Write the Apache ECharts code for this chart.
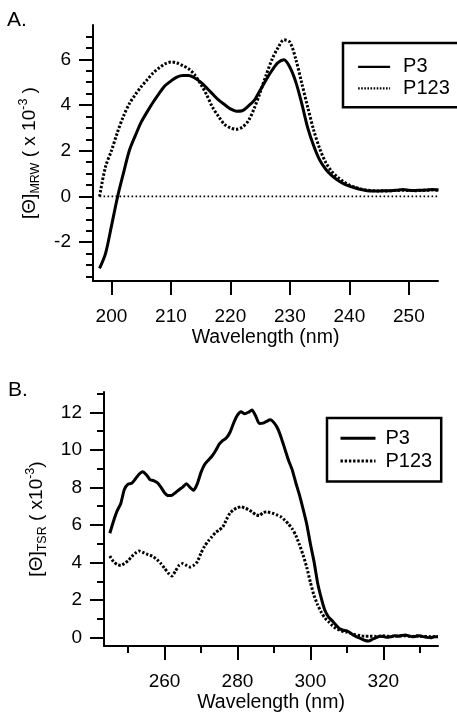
<!DOCTYPE html>
<html>
<head>
<meta charset="utf-8">
<script src="https://cdn.jsdelivr.net/npm/echarts@6/dist/echarts.min.js"></script>
<style>
html,body{margin:0;padding:0;background:#fff;}
#chart{width:457px;height:717px;}
</style>
</head>
<body>
<div id="chart"></div>
<script>
// ---------- Panel A data ----------
const wlA = [198,199,200,201,202,203,204,205,206,207,208,209,210,211,212,213,214,215,216,217,218,219,220,221,222,223,224,225,226,227,228,229,230,231,232,233,234,235,236,237,238,239,240,241,242,243,244,245,246,247,248,249,250,251,252,253,254,255];
const p3A = [-3.15,-2.5,-1.3,-0.05,1.0,2.0,2.65,3.25,3.7,4.12,4.5,4.84,5.05,5.22,5.29,5.29,5.18,5.0,4.75,4.48,4.22,4.02,3.83,3.73,3.75,3.95,4.2,4.65,5.1,5.52,5.85,5.98,5.65,5.0,4.06,3.0,2.22,1.6,1.2,0.92,0.72,0.56,0.45,0.37,0.3,0.25,0.24,0.24,0.25,0.25,0.27,0.3,0.27,0.26,0.27,0.28,0.3,0.28];
const p123A = [0.0,1.3,2.0,2.8,3.5,4.05,4.45,4.8,5.1,5.4,5.62,5.8,5.88,5.84,5.72,5.58,5.32,4.92,4.45,3.9,3.5,3.15,3.0,2.94,3.03,3.3,3.85,4.55,5.3,6.0,6.5,6.85,6.75,6.0,4.95,3.9,2.9,2.1,1.5,1.1,0.85,0.65,0.5,0.4,0.32,0.28,0.25,0.24,0.24,0.25,0.26,0.27,0.26,0.25,0.26,0.27,0.28,0.27];
const zeroLineA = [[198,0],[255,0]];

// ---------- Panel B data ----------
const wlB = [245,246,247,248,249,250,251,252,253,254,255,256,257,258,259,260,261,262,263,264,265,266,267,268,269,270,271,272,273,274,275,276,277,278,279,280,281,282,283,284,285,286,287,288,289,290,291,292,293,294,295,296,297,298,299,300,301,302,303,304,305,306,307,308,309,310,311,312,313,314,315,316,317,318,319,320,321,322,323,324,325,326,327,328,329,330,331,332,333,334,335];
const p3B = [5.56,6.2,6.75,7.15,7.9,8.18,8.22,8.45,8.7,8.84,8.68,8.42,8.36,8.25,8.02,7.72,7.57,7.58,7.72,7.88,8.02,8.2,8.0,7.85,8.2,8.8,9.22,9.45,9.66,9.95,10.3,10.5,10.64,10.95,11.45,11.85,12.03,11.92,12.0,12.12,11.8,11.4,11.42,11.52,11.6,11.45,11.15,10.65,10.05,9.45,8.95,8.25,7.6,6.85,6.05,5.0,4.05,2.9,2.1,1.45,1.1,0.9,0.68,0.48,0.4,0.36,0.25,0.12,0.02,-0.06,-0.15,-0.18,-0.08,0.0,0.08,0.06,0.02,0.05,0.1,0.08,0.12,0.15,0.1,0.05,0.08,0.1,0.06,0.02,0.0,0.05,0.05];
const p123B = [4.35,4.05,3.9,3.85,3.95,4.1,4.32,4.5,4.62,4.55,4.46,4.4,4.3,4.15,3.95,3.7,3.45,3.28,3.55,3.85,3.95,3.85,3.76,3.85,4.05,4.5,4.88,5.15,5.38,5.6,5.73,5.9,6.3,6.65,6.82,6.92,6.97,6.9,6.82,6.7,6.55,6.5,6.66,6.7,6.66,6.6,6.52,6.43,6.25,6.05,5.8,5.45,4.95,4.4,3.75,2.95,2.25,1.75,1.35,1.05,0.85,0.65,0.5,0.4,0.33,0.3,0.24,0.18,0.14,0.1,0.08,0.08,0.08,0.07,0.08,0.1,0.08,0.06,0.08,0.1,0.09,0.1,0.08,0.07,0.1,0.08,0.06,0.07,0.05,0.06,0.07];

// ---------- tick labels ----------
const xTicksA = [200,210,220,230,240,250];
const yMajorA = [-2,0,2,4,6];
const yMinorA = [-3.5,-3,-2.5,-1.5,-1,-0.5,0.5,1,1.5,2.5,3,3.5,4.5,5,5.5,6.5,7];
const xMajorB = [260,280,300,320];
const xMinorB = [250,270,290,310,330];
const yMajorB = [0,2,4,6,8,10,12];
const yMinorB = [1,3,5,7,9,11,13];
const seriesNames = ['P3','P123'];

const FONT = "'Liberation Sans', Arial, Helvetica, sans-serif";
const pairs = (xs, ys) => xs.map((x, i) => [x, ys[i]]);

function majorX(grid, min, max, vals, name) {
  return {
    type: 'value', gridIndex: grid, min: min, max: max, position: 'bottom',
    axisLine: { show: true, onZero: false, lineStyle: { color: '#000', width: 2 } },
    axisTick: { show: true, customValues: vals, length: 14, lineStyle: { color: '#000', width: 2 } },
    axisLabel: { show: true, customValues: vals, margin: 26, fontSize: 19, color: '#000', fontFamily: FONT },
    splitLine: { show: false },
    name: name, nameLocation: 'middle', nameGap: 47,
    nameTextStyle: { fontSize: 19.5, color: '#000', fontFamily: FONT }
  };
}
function minorX(grid, min, max, vals) {
  return {
    type: 'value', gridIndex: grid, min: min, max: max, position: 'bottom',
    axisLine: { show: false, onZero: false },
    axisTick: { show: true, customValues: vals, length: 7, lineStyle: { color: '#000', width: 2 } },
    axisLabel: { show: false },
    splitLine: { show: false }
  };
}
function majorY(grid, min, max, vals, name, gap) {
  return {
    type: 'value', gridIndex: grid, min: min, max: max, position: 'left',
    axisLine: { show: true, onZero: false, lineStyle: { color: '#000', width: 2 } },
    axisTick: { show: true, customValues: vals, length: 14, lineStyle: { color: '#000', width: 2 } },
    axisLabel: { show: true, customValues: vals, margin: 22, fontSize: 19, color: '#000', fontFamily: FONT },
    splitLine: { show: false },
    name: name, nameLocation: 'middle', nameRotate: 90, nameGap: gap,
    nameTextStyle: {
      color: '#000', fontFamily: FONT, fontSize: 19, lineHeight: 26,
      rich: {
        a: { fontSize: 19, fontFamily: FONT, color: '#000', verticalAlign: 'middle', lineHeight: 26 },
        sub: { fontSize: 12.5, fontFamily: FONT, color: '#000', verticalAlign: 'bottom', lineHeight: 26, padding: [0, 0, 1, 0] },
        sup: { fontSize: 12.5, fontFamily: FONT, color: '#000', verticalAlign: 'top', lineHeight: 26 }
      }
    }
  };
}
function minorY(grid, min, max, vals) {
  return {
    type: 'value', gridIndex: grid, min: min, max: max, position: 'left',
    axisLine: { show: false, onZero: false },
    axisTick: { show: true, customValues: vals, length: 7, lineStyle: { color: '#000', width: 2 } },
    axisLabel: { show: false },
    splitLine: { show: false }
  };
}

const solid = { color: '#000', width: 3, type: 'solid' };
const dotted = { color: '#000', width: 3, type: [2.4, 1.8], cap: 'butt' };

function legendAt(left, top, pad, iw, lw, dash, lh, textPad) {
  return {
    data: [
      { name: seriesNames[0], lineStyle: { width: lw, type: 'solid' } },
      { name: seriesNames[1], lineStyle: { width: lw, type: dash } }
    ],
    orient: 'vertical', left: left, top: top,
    padding: pad, itemGap: 0, itemWidth: iw, itemHeight: 14,
    borderColor: '#000', borderWidth: 2.5, backgroundColor: '#fff',
    selectedMode: false,
    itemStyle: { opacity: 0, color: 'rgba(0,0,0,0)', borderWidth: 0 },
    textStyle: { fontSize: 20, color: '#000', fontFamily: FONT, lineHeight: lh, padding: [0, 0, 0, textPad] }
  };
}

const option = {
  animation: false,
  backgroundColor: '#fff',
  textStyle: { fontFamily: FONT },
  grid: [
    { left: 93, top: 25, width: 345, height: 256, containLabel: false, outerBoundsMode: 'none' },
    { left: 104, top: 392, width: 334, height: 254, containLabel: false, outerBoundsMode: 'none' }
  ],
  xAxis: [
    majorX(0, 196.9, 254.9, xTicksA, 'Wavelength (nm)'),
    majorX(1, 243.4, 335, xMajorB, 'Wavelength (nm)'),
    minorX(1, 243.4, 335, xMinorB)
  ],
  yAxis: [
    majorY(0, -3.7, 7.5, yMajorA, '{a|[Θ]}{sub|MRW}{a| ( x 10}{sup|-3}{a| )}', 45),
    minorY(0, -3.7, 7.5, yMinorA),
    majorY(1, -0.44, 13.08, yMajorB, '{a|[Θ]}{sub|TSR}{a| ( x10}{sup|-3}{a|)}', 47),
    minorY(1, -0.44, 13.08, yMinorB)
  ],
  legend: [
    legendAt(343, 43, [13, 10, 8, 14], 32, 2.2, [1.6, 1.5], 21.6, 8),
    legendAt(327, 418, [9, 9, 9, 12], 35, 3, [2.4, 1.8], 22.7, 5)
  ],
  graphic: [
    { type: 'text', left: 7, top: 10, style: { text: 'A.', fontSize: 21, fontFamily: FONT, fill: '#000' } },
    { type: 'text', left: 8, top: 380, style: { text: 'B.', fontSize: 21, fontFamily: FONT, fill: '#000' } }
  ],
  series: [
    { name: 'zeroA', type: 'line', xAxisIndex: 0, yAxisIndex: 0, data: zeroLineA, symbol: 'none', silent: true,
      lineStyle: { color: '#000', width: 1.8, type: [1.6, 2.4] }, z: 1 },
    { name: 'P3', type: 'line', xAxisIndex: 0, yAxisIndex: 0, data: pairs(wlA, p3A), symbol: 'none', smooth: 0.3, lineStyle: solid, itemStyle: { color: '#000' }, z: 3 },
    { name: 'P123', type: 'line', xAxisIndex: 0, yAxisIndex: 0, data: pairs(wlA, p123A), symbol: 'none', smooth: 0.3, lineStyle: dotted, itemStyle: { color: '#000' }, z: 2 },
    { name: 'P3', type: 'line', xAxisIndex: 1, yAxisIndex: 2, data: pairs(wlB, p3B), symbol: 'none', smooth: 0.2, lineStyle: solid, itemStyle: { color: '#000' }, z: 3 },
    { name: 'P123', type: 'line', xAxisIndex: 1, yAxisIndex: 2, data: pairs(wlB, p123B), symbol: 'none', smooth: 0.2, lineStyle: dotted, itemStyle: { color: '#000' }, z: 2 }
  ]
};

const chart = echarts.init(document.getElementById('chart'), null, { renderer: 'canvas' });
chart.setOption(option);
</script>
</body>
</html>
